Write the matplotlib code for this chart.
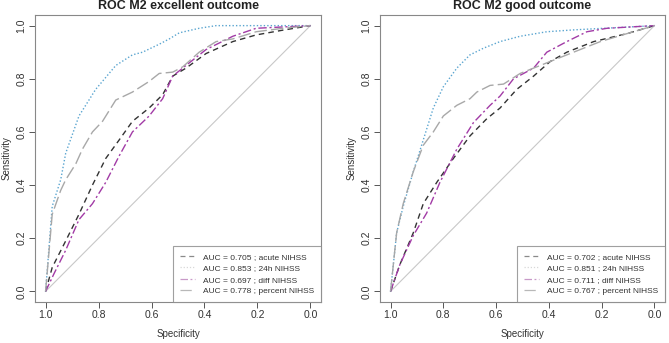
import matplotlib
matplotlib.use("Agg")
import matplotlib.pyplot as plt

# ---------------- data ----------------
titles = ["ROC M2 excellent outcome", "ROC M2 good outcome"]
series_names = ["acute NIHSS", "24h NIHSS", "diff NIHSS", "percent NIHSS"]
auc_excellent = [0.705, 0.853, 0.697, 0.778]
auc_good = [0.702, 0.851, 0.711, 0.767]

# excellent outcome
exc_acute_spec = [1.0, 0.975, 0.924, 0.874, 0.823, 0.773, 0.722, 0.672, 0.609, 0.558, 0.52, 0.47, 0.394, 0.293, 0.205, 0.104, 0.0]
exc_acute_sens = [0.0, 0.09, 0.19, 0.29, 0.40, 0.50, 0.57, 0.64, 0.69, 0.74, 0.81, 0.84, 0.895, 0.94, 0.965, 0.983, 1.0]
exc_24h_spec = [1.0, 0.975, 0.943, 0.924, 0.874, 0.811, 0.735, 0.672, 0.634, 0.571, 0.533, 0.495, 0.42, 0.356, 0.0]
exc_24h_sens = [0.0, 0.32, 0.42, 0.52, 0.66, 0.76, 0.85, 0.89, 0.90, 0.93, 0.95, 0.973, 0.99, 1.0, 1.0]
exc_diff_spec = [1.0, 0.968, 0.924, 0.874, 0.823, 0.773, 0.722, 0.672, 0.609, 0.558, 0.52, 0.47, 0.394, 0.293, 0.205, 0.104, 0.0]
exc_diff_sens = [0.0, 0.067, 0.155, 0.27, 0.33, 0.41, 0.51, 0.60, 0.66, 0.725, 0.81, 0.85, 0.91, 0.96, 0.99, 0.995, 1.0]
exc_pct_spec = [1.0, 0.975, 0.943, 0.924, 0.886, 0.861, 0.823, 0.785, 0.735, 0.672, 0.609, 0.571, 0.52, 0.482, 0.42, 0.356, 0.293, 0.205, 0.104, 0.0]
exc_pct_sens = [0.0, 0.29, 0.38, 0.42, 0.48, 0.535, 0.60, 0.64, 0.72, 0.75, 0.79, 0.82, 0.825, 0.845, 0.90, 0.94, 0.95, 0.977, 0.99, 1.0]

# good outcome
good_acute_spec = [1.0, 0.965, 0.914, 0.876, 0.825, 0.762, 0.699, 0.635, 0.585, 0.522, 0.458, 0.395, 0.332, 0.23, 0.104, 0.0]
good_acute_sens = [0.0, 0.10, 0.22, 0.33, 0.41, 0.50, 0.585, 0.65, 0.69, 0.76, 0.81, 0.865, 0.90, 0.94, 0.97, 1.0]
good_24h_spec = [1.0, 0.977, 0.952, 0.914, 0.876, 0.838, 0.80, 0.749, 0.699, 0.648, 0.585, 0.509, 0.408, 0.306, 0.0]
good_24h_sens = [0.0, 0.22, 0.32, 0.45, 0.57, 0.69, 0.77, 0.84, 0.89, 0.915, 0.94, 0.96, 0.977, 0.984, 1.0]
good_diff_spec = [1.0, 0.965, 0.914, 0.863, 0.813, 0.749, 0.686, 0.623, 0.585, 0.534, 0.458, 0.408, 0.332, 0.256, 0.18, 0.0]
good_diff_sens = [0.0, 0.10, 0.21, 0.295, 0.41, 0.535, 0.635, 0.70, 0.735, 0.80, 0.84, 0.90, 0.94, 0.977, 0.99, 1.0]
good_pct_spec = [1.0, 0.977, 0.952, 0.914, 0.876, 0.838, 0.80, 0.749, 0.699, 0.673, 0.623, 0.572, 0.509, 0.433, 0.332, 0.205, 0.104, 0.0]
good_pct_sens = [0.0, 0.22, 0.33, 0.45, 0.55, 0.60, 0.66, 0.70, 0.725, 0.75, 0.775, 0.78, 0.82, 0.85, 0.89, 0.94, 0.97, 1.0]

ticks = [1.0, 0.8, 0.6, 0.4, 0.2, 0.0]
tick_labels = ["1.0", "0.8", "0.6", "0.4", "0.2", "0.0"]

# ---------------- styles ----------------
colors = ["#333333", "#5aa5d0", "#a23ba6", "#a8a8a8"]
legend_colors = ["#8a8a8a", "#d8d8d8", "#c89ac8", "#b8b8b8"]
styles = [(0, (4, 3)), (0, (1, 1.5)), (0, (6, 2, 1.5, 2)), (0, (9, 3))]

plt.rcParams['font.family'] = ['Liberation Sans', 'DejaVu Sans']

fig = plt.figure(figsize=(6.69, 3.43), dpi=100)
axes_rects = [[35/669, 41/343, 286/669, 287/343], [380/669, 41/343, 285/669, 287/343]]

panels = [
    (auc_excellent, [(exc_acute_spec, exc_acute_sens), (exc_24h_spec, exc_24h_sens),
                     (exc_diff_spec, exc_diff_sens), (exc_pct_spec, exc_pct_sens)]),
    (auc_good, [(good_acute_spec, good_acute_sens), (good_24h_spec, good_24h_sens),
                (good_diff_spec, good_diff_sens), (good_pct_spec, good_pct_sens)]),
]

for rect, title, (aucs, curves) in zip(axes_rects, titles, panels):
    ax = fig.add_axes(rect)
    ax.plot([1, 0], [0, 1], color="#c8c8c8", lw=0.8, zorder=1)
    handles = []
    for i in [3, 0, 2, 1]:
        sp, se = curves[i]
        ax.plot(sp, se, color=colors[i], ls=styles[i], lw=1.0, zorder=2 + i)
    for i in range(4):
        h, = ax.plot([], [], color=legend_colors[i], ls=styles[i], lw=0.9,
                     label=f"AUC = {aucs[i]:.3f} ; {series_names[i]}")
        handles.append(h)
    ax.set_xlim(1.04, -0.04)
    ax.set_ylim(-0.04, 1.04)
    ax.set_xticks(ticks)
    ax.set_xticklabels(tick_labels)
    ax.set_yticks(ticks)
    ax.set_yticklabels(tick_labels, rotation=90, va="center")
    ax.tick_params(direction="out", length=4, width=0.7, colors="#555555",
                   labelsize=7.5, labelcolor="#333333", pad=2)
    for s in ax.spines.values():
        s.set_color("#888888")
        s.set_linewidth(0.8)
    ax.set_xlabel("Specificity", fontsize=7, color="#333333", labelpad=6)
    ax.set_ylabel("Sensitivity", fontsize=7, color="#333333", labelpad=4)
    ax.set_title(title, fontsize=9, fontweight="bold", color="#222222", pad=4)
    leg = ax.legend(handles=handles, loc="lower right", fontsize=6,
                    frameon=True, fancybox=False, borderaxespad=0,
                    handlelength=1.8, handletextpad=1.0, labelspacing=0.45,
                    borderpad=0.8)
    leg.get_frame().set_edgecolor("#888888")
    leg.get_frame().set_linewidth(0.8)
    for t in leg.get_texts():
        t.set_color("#333333")

fig.savefig("out.png", dpi=100)
